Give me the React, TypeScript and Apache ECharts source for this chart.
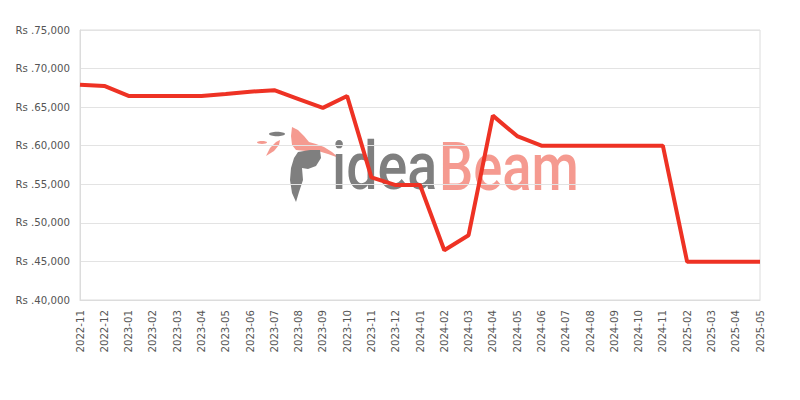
import React, { useEffect, useRef } from "react";
import * as echarts from "echarts";

const categories = [
  "2022-11", "2022-12", "2023-01", "2023-02", "2023-03", "2023-04", "2023-05", "2023-06",
  "2023-07", "2023-08", "2023-09", "2023-10", "2023-11", "2023-12", "2024-01", "2024-02",
  "2024-03", "2024-04", "2024-05", "2024-06", "2024-07", "2024-08", "2024-09", "2024-10",
  "2024-11", "2025-02", "2025-03", "2025-04", "2025-05",
];

const prices = [
  67900, 67750, 66450, 66450, 66450, 66450, 66700, 67000,
  67200, 66050, 64900, 66450, 55900, 54900, 54900, 46450,
  48400, 63900, 61250, 60000, 60000, 60000, 60000, 60000,
  60000, 44950, 44950, 44950, 44950,
];

const yMin = 40000;
const yMax = 75000;
const yStep = 5000;

export default function App() {
  const ref = useRef<HTMLDivElement>(null);

  useEffect(() => {
    if (!ref.current) return;
    const chart = echarts.init(ref.current, null, { renderer: "svg" });
    const gray = "#7f7f7f";
    const pink = "#f59a90";
    chart.setOption({
      animation: false,
      grid: {
        left: 80,
        right: 40,
        top: 30,
        bottom: 100,
        show: true,
        borderColor: "#dcdcdc",
        borderWidth: 1,
      },
      xAxis: {
        type: "category",
        data: categories,
        boundaryGap: false,
        axisLine: { show: true, lineStyle: { color: "#dcdcdc" } },
        axisTick: { show: false },
        axisLabel: {
          rotate: 90,
          interval: 0,
          color: "#555",
          fontFamily: "DejaVu Sans",
          fontSize: 10.2,
          margin: 10,
        },
        splitLine: { show: false },
      },
      yAxis: {
        type: "value",
        min: yMin,
        max: yMax,
        interval: yStep,
        axisLine: { show: true, lineStyle: { color: "#dcdcdc" } },
        axisTick: { show: false },
        axisLabel: {
          color: "#555",
          fontFamily: "DejaVu Sans",
          fontSize: 10.2,
          margin: 10,
          formatter: (v: number) => "Rs ." + v.toLocaleString("en-US"),
        },
        splitLine: { show: true, lineStyle: { color: "#e3e3e3" } },
      },
      graphic: [
        {
          type: "group",
          z: 0,
          silent: true,
          children: [
            {
              type: "ellipse",
              shape: { cx: 277, cy: 134, rx: 8, ry: 2.2 },
              style: { fill: gray },
            },
            {
              type: "ellipse",
              shape: { cx: 262, cy: 142.5, rx: 5, ry: 1.4 },
              style: { fill: pink },
            },
            {
              type: "polygon",
              shape: {
                points: [
                  [266, 156], [270, 148], [276, 142], [280, 140], [279, 145], [274, 151],
                ],
              },
              style: { fill: pink },
            },
            {
              type: "polygon",
              shape: {
                points: [
                  [292, 127], [298, 130], [304, 136], [309, 142], [316, 144], [324, 147],
                  [332, 152], [339, 158], [328, 154], [318, 151], [306, 151], [296, 150],
                  [292, 145], [291, 136],
                ],
              },
              style: { fill: pink },
            },
            {
              type: "polygon",
              shape: {
                points: [
                  [298, 152], [310, 150], [320, 150], [321, 158], [316, 166], [308, 169],
                  [302, 168], [303, 180], [299, 192], [296, 202], [292, 193], [290, 180],
                  [291, 168], [294, 158],
                ],
              },
              style: { fill: gray },
            },
            {
              type: "text",
              x: 332,
              y: 166.5,
              scaleX: 0.83,
              style: {
                text: "idea",
                fill: gray,
                font: "500 67px Roboto",
                verticalAlign: "middle",
              },
            },
            {
              type: "text",
              x: 439,
              y: 166.5,
              scaleX: 0.81,
              style: {
                text: "Beam",
                fill: pink,
                font: "500 67px Roboto",
                verticalAlign: "middle",
              },
            },
          ],
        },
      ],
      series: [
        {
          type: "line",
          data: prices,
          showSymbol: false,
          symbol: "none",
          z: 5,
          lineStyle: { color: "#ee3224", width: 4 },
        },
      ],
    });
    return () => chart.dispose();
  }, []);

  return (
    <div
      ref={ref}
      style={{ width: 800, height: 400, position: "absolute", left: 0, top: 0 }}
    />
  );
}
